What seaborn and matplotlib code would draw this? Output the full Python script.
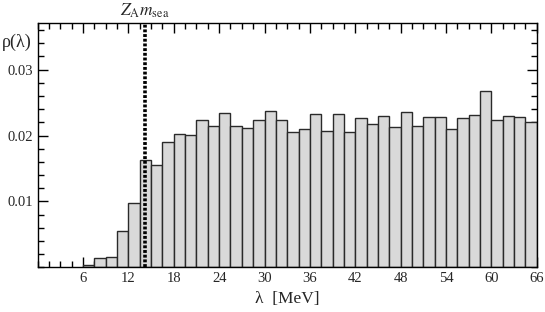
# Spectral density histogram rho(lambda) with the Z_A m_sea marker
import numpy as np
import pandas as pd
import seaborn as sns
import matplotlib
matplotlib.use("Agg")
import matplotlib.pyplot as plt
from matplotlib.ticker import MultipleLocator

# bins of 1.5 MeV from 6 to 66 MeV
bin_edges = list(np.arange(6.0, 66.0 + 0.01, 1.5))
bin_centers = [(a + b) / 2 for a, b in zip(bin_edges[:-1], bin_edges[1:])]

# rho(lambda), one value per bin
rho = [0.0004, 0.0014, 0.0016, 0.0055, 0.0097, 0.0163, 0.0156, 0.0190,
       0.0203, 0.0201, 0.0224, 0.0215, 0.0234, 0.0215, 0.0212, 0.0223,
       0.0237, 0.0223, 0.0205, 0.0210, 0.0232, 0.0207, 0.0232, 0.0206,
       0.0226, 0.0218, 0.0229, 0.0213, 0.0235, 0.0214, 0.0228, 0.0228,
       0.0210, 0.0226, 0.0231, 0.0267, 0.0223, 0.0229, 0.0228, 0.0221]

z_m_sea = 14.2  # MeV
x_ticks = [6, 12, 18, 24, 30, 36, 42, 48, 54, 60, 66]
y_ticks = [0.01, 0.02, 0.03]

df = pd.DataFrame({"lam": bin_centers, "rho": rho})

sns.set_style("ticks")
plt.rcParams["font.family"] = ["Liberation Serif", "DejaVu Serif"]
plt.rcParams["mathtext.fontset"] = "stix"

fig = plt.figure(figsize=(5.45, 3.12), dpi=100)
ax = fig.add_axes([0.069, 0.143, 0.916, 0.782])

sns.histplot(data=df, x="lam", weights="rho", bins=bin_edges, ax=ax,
             color="#d9d9d9", edgecolor="#2a2a2a", linewidth=1.0, alpha=1.0)

ax.axvline(z_m_sea, color="black", linewidth=2.6, linestyle=(0, (0.8, 0.5)))
ax.text(z_m_sea, 1.012, r"$Z_{\rm A}m_{\rm sea}$", transform=ax.get_xaxis_transform(),
        ha="center", va="bottom", fontsize=12.5)

ax.set_xlim(0, 66)
ax.set_ylim(0, 0.037)
ax.set_xticks(x_ticks)
ax.set_yticks(y_ticks)
ax.set_yticklabels(["0.01", "0.02", "0.03"])
ax.xaxis.set_minor_locator(MultipleLocator(1.5))
ax.yaxis.set_minor_locator(MultipleLocator(0.002))
ax.tick_params(which="both", direction="in", top=True, right=True,
               labelsize=10.5, width=1.0, color="black")
ax.tick_params(which="major", length=7, pad=3)
ax.tick_params(which="minor", length=4)
for s in ax.spines.values():
    s.set_linewidth(1.0)
    s.set_color("black")

ax.set_ylabel("")
ax.set_xlabel("λ  [MeV]", fontsize=12.5, labelpad=5)
fig.text(0.004, 1 - 42 / 312, "ρ(λ)", ha="left", va="center", fontsize=13)

fig.savefig("out.png", dpi=100)
